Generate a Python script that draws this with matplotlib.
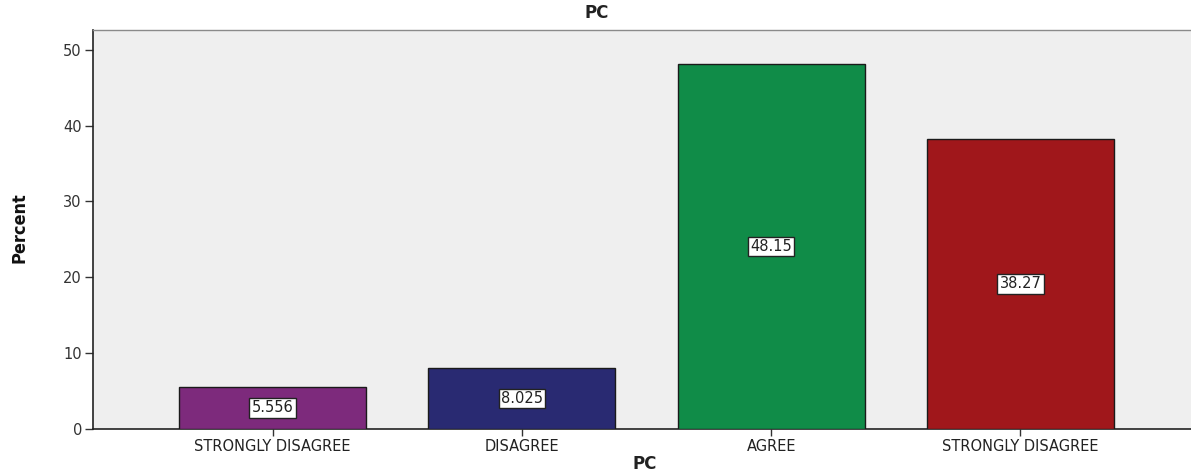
import matplotlib
matplotlib.use("Agg")
import matplotlib.pyplot as plt

categories = ["STRONGLY DISAGREE", "DISAGREE", "AGREE", "STRONGLY DISAGREE"]
percent = [5.556, 8.025, 48.15, 38.27]
value_labels = ["5.556", "8.025", "48.15", "38.27"]
bar_colors = ["#7D2A7C", "#292A72", "#108C48", "#A0171B"]
y_ticks = [0, 10, 20, 30, 40, 50]

plt.rcParams["font.family"] = ["DejaVu Sans"]

fig = plt.figure(figsize=(11.91, 4.73), dpi=100)
W, H = 1191, 473
left_px, right_px, top_px, bottom_px = 93, 1200, 30, 429
ax = fig.add_axes([left_px / W, (H - bottom_px) / H,
                   (right_px - left_px) / W, (bottom_px - top_px) / H])
ax.set_facecolor("#EFEFEF")

x = list(range(len(categories)))
ax.bar(x, percent, width=0.75, color=bar_colors,
       edgecolor="#1a1a1a", linewidth=1.0, zorder=3)

for xi, v, lab in zip(x, percent, value_labels):
    ax.text(xi, v / 2, lab, ha="center", va="center", fontsize=10.5,
            color="#222222", zorder=5,
            bbox=dict(boxstyle="square,pad=0.15", facecolor="white",
                      edgecolor="#222222", linewidth=1.0))

ax.set_xlim(-0.72, 3.72)
ax.set_ylim(0, 52.6)
ax.set_xticks(x)
ax.set_xticklabels(categories, fontsize=10.5, color="#222222")
ax.set_yticks(y_ticks)
ax.set_yticklabels([str(t) for t in y_ticks], fontsize=10.5, color="#333333")
ax.tick_params(axis="y", direction="out", length=6, width=1.0, color="#333333", pad=2)
ax.tick_params(axis="x", direction="out", length=5, width=1.0, color="#333333", pad=2)

for s in ("left", "bottom"):
    ax.spines[s].set_color("#222222")
    ax.spines[s].set_linewidth(1.2)
ax.spines["top"].set_color("#8a8a8a")
ax.spines["top"].set_linewidth(1.0)
ax.spines["right"].set_visible(False)

# Title and axis labels placed in figure pixels
fig.text(597 / W, 1 - 13 / H, "PC", ha="center", va="center",
         fontsize=12, fontweight="bold", color="#222222")
fig.text(645 / W, 1 - 464 / H, "PC", ha="center", va="center",
         fontsize=12, fontweight="bold", color="#222222")
fig.text(19 / W, 1 - 228 / H, "Percent", ha="center", va="center",
         rotation=90, fontsize=13, fontweight="bold", fontstretch="condensed",
         color="#111111")

fig.savefig("out.png", dpi=100, facecolor="white")
